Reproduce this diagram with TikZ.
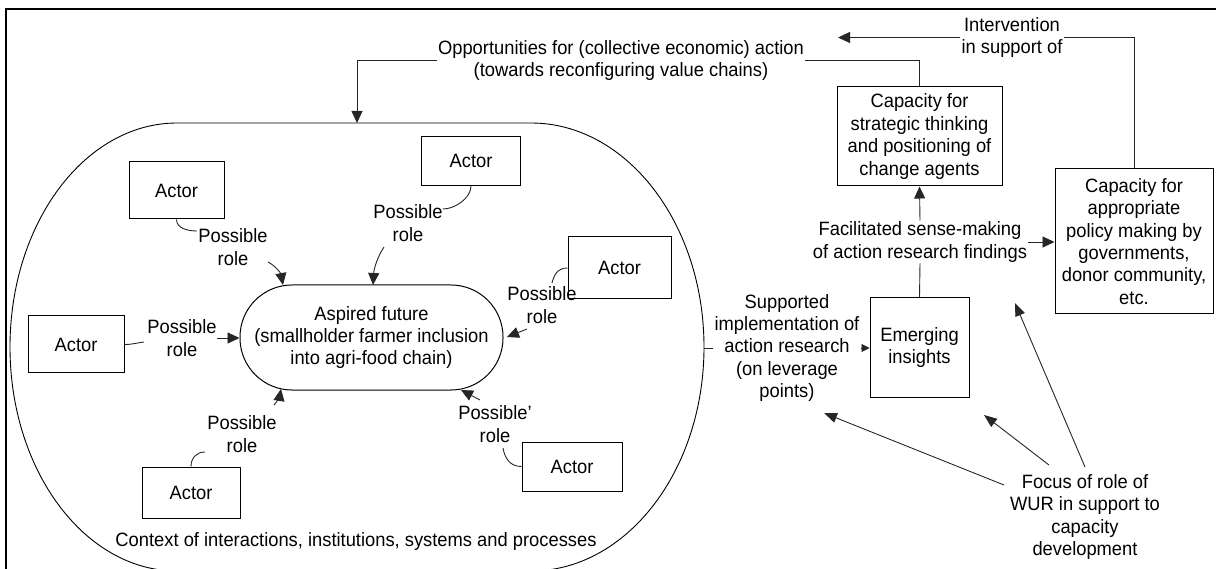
\documentclass[tikz,border=0pt]{standalone}
\usepackage{fontspec}
\setmainfont{Liberation Sans}[FakeStretch=0.95]
\usetikzlibrary{arrows.meta}
\begin{document}
\begin{tikzpicture}[x=1pt,y=-1pt,
  every node/.style={font=\fontsize{19.3}{22.4}\selectfont, inner sep=0pt},
  box/.style={draw, line width=1pt, align=center, inner sep=0pt},
  lbl/.style={align=center, inner sep=1pt},
  conn/.style={line width=0.9pt, draw=black!85},
  arr/.style={conn, -{Triangle[length=12pt,width=11pt]}},
  sarr/.style={conn, -{Triangle[length=8pt,width=8pt]}},
  farr/.style={conn, -{Triangle[length=13pt,width=10pt]}},
]
\useasboundingbox (0,0) rectangle (1216,569);
% frame
\draw[line width=2.5pt] (6,590) -- (6,9) -- (1240,9);

% context shape
\draw[line width=0.9pt] (177,123) -- (531,123)
  .. controls (626.5,123) and (704,223.3) .. (704,347)
  .. controls (704,470.7) and (626.5,571) .. (531,571)
  -- (177,571)
  .. controls (84.8,571) and (10,470.7) .. (10,347)
  .. controls (10,223.3) and (84.8,123) .. (177,123) -- cycle;
\node (ctxl) at (356,541.5) {Context of interactions, institutions, systems and processes};
\coordinate (ctxT) at (357,123);
\coordinate (ctxR) at (704,348);

% pill
\node[box, rounded corners=52pt, minimum width=263pt, minimum height=105pt] (p) at (371.5,337.5)
  {Aspired future\\(smallholder farmer inclusion\\into agri-food chain)};

% actors
\node[box, minimum width=95pt, minimum height=57pt] (a1) at (176.5,190.5) {Actor};
\node[box, minimum width=99pt, minimum height=49pt] (a2) at (471,161) {Actor};
\node[box, minimum width=103pt, minimum height=62pt] (a3) at (619.5,268) {Actor};
\node[box, minimum width=96pt, minimum height=57pt] (a4) at (76,344.5) {Actor};
\node[box, minimum width=98pt, minimum height=51pt] (a5) at (191,492.5) {Actor};
\node[box, minimum width=100pt, minimum height=49pt] (a6) at (572,466.5) {Actor};

% role labels
\node[lbl] (r1) at (233,247) {Possible\\role};
\node[lbl] (r2) at (408,223) {Possible\\role};
\node[lbl] (r3) at (542,305) {Possible\\role};
\node[lbl] (r4) at (182,338) {Possible\\role};
\node[lbl] (r5) at (242,434) {Possible\\role};
\node[lbl] (r6) at (495,424) {Possible'\\role};

% role connectors
\coordinate (c1a) at (197,231);
\coordinate (c1b) at (268,262);
\coordinate (c1t) at (283,285);
\draw[conn] (a1.south) .. controls +(0,9) and +(-9,0) .. (c1a);
\draw[arr] (c1b) .. controls (276,266) and (281,274) .. (c1t);

\coordinate (c2a) at (443,209);
\coordinate (c2b) at (384,247);
\coordinate (c2t) at (373,285);
\draw[conn] (a2.south) .. controls +(0,12) and +(12,0) .. (c2a);
\draw[arr] (c2b) .. controls (378,256) and (374,268) .. (c2t);

\coordinate (c3a) at (552,283);
\coordinate (c3b) at (527,329);
\coordinate (c3t) at (507,337);
\draw[conn] (a3.west) .. controls +(-10,0) and +(2,-8) .. (c3a);
\draw[arr] (c3b) -- (c3t);

\coordinate (c4a) at (144,342);
\coordinate (c4b) at (217,338);
\draw[conn] (a4.east) .. controls +(8,0) and +(-8,1) .. (c4a);
\draw[arr] (c4b) -- (c4b -| p.west);

\coordinate (c5a) at (205,452);
\coordinate (c5b) at (274,405);
\coordinate (c5t) at (281,389);
\draw[conn] (a5.north) .. controls +(0,-9) and +(-8,0) .. (c5a);
\draw[arr] (c5b) .. controls (279,399) and (280,395) .. (c5t);

\coordinate (c6a) at (503,448);
\coordinate (c6b) at (480,400);
\coordinate (c6t) at (461,390);
\draw[conn] (c6a) .. controls +(2,12) and +(-10,0) .. (a6.west);
\draw[arr] (c6b) -- (c6t);

% right part
\node[box, minimum width=165pt, minimum height=99pt] (s) at (919.5,136.5)
  {Capacity for\\strategic thinking\\and positioning of\\change agents};
\node[box, minimum width=158pt, minimum height=145pt] (r) at (1134,241.5)
  {Capacity for\\appropriate\\policy making by\\governments,\\donor community,\\etc.};
\node[box, minimum width=99pt, minimum height=99pt] (e) at (919.5,347.5) {Emerging\\insights};

\node[lbl] (opp) at (621,60.5) {Opportunities for (collective economic) action\\(towards reconfiguring value chains)};
\node[lbl] (intv) at (1012,37.5) {Intervention\\in support of};
\node[lbl] (fac) at (920,242) {Facilitated sense-making\\of action research findings};
\node[lbl] (sup) at (787,348) {Supported\\implementation of\\action research\\(on leverage\\points)};
\node[lbl] (foc) at (1085,517) {Focus of role of\\WUR in support to\\capacity\\development};

\coordinate (iT) at (838,37.5);

\draw[conn] (s.north) |- (opp.east);
\draw[arr] (opp.west) -| (ctxT);
\draw[conn] (r.north) |- (intv.east);
\draw[arr] (intv.west) -- (iT);
\draw[conn] (e.north) -- (fac.south);
\draw[arr] (fac.north) -- (s.south);
\draw[arr] (fac.east) -- (fac.east -| r.west);
\draw[conn] (ctxR) -- (sup.west);
\draw[sarr] (sup.east) -- (sup.east -| e.west);

% focus arrows
\coordinate (f1s) at (1004,485);
\coordinate (f1t) at (824,413);
\coordinate (f2s) at (1049,465);
\coordinate (f2t) at (984,415);
\coordinate (f3s) at (1085,467);
\coordinate (f3t) at (1015,303);
\draw[farr] (f1s) -- (f1t);
\draw[farr] (f2s) -- (f2t);
\draw[farr] (f3s) -- (f3t);
\end{tikzpicture}
\end{document}
